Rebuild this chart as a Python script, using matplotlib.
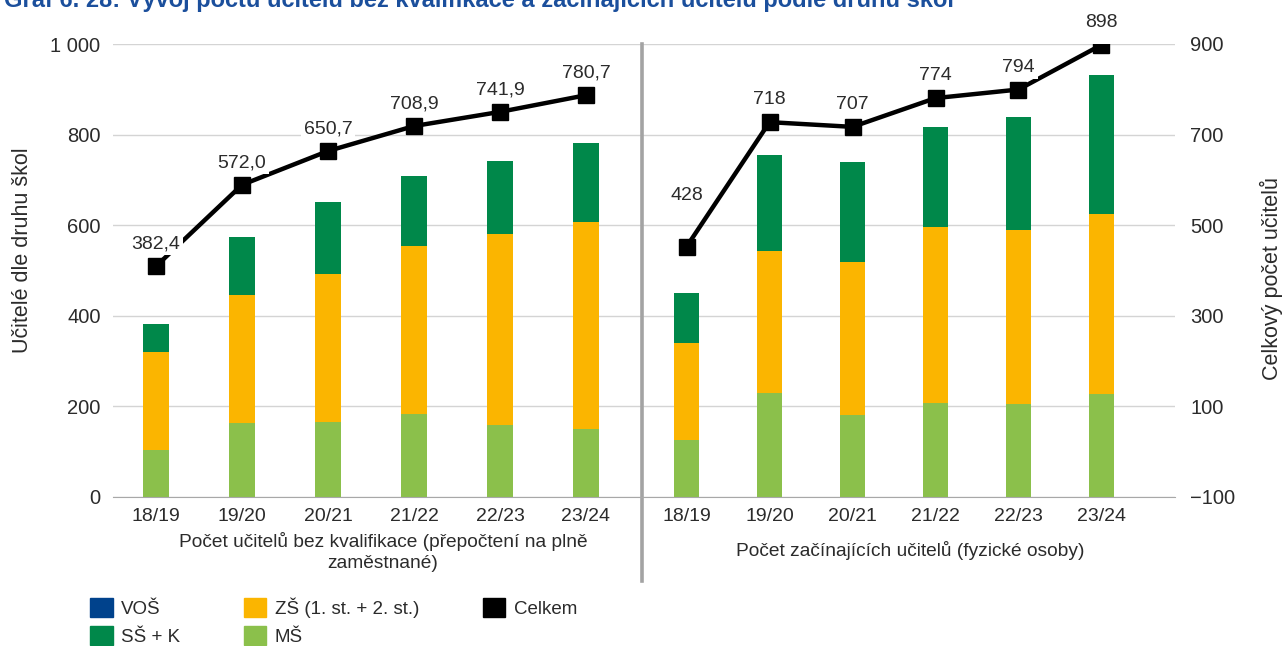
import matplotlib.pyplot as plt
import numpy as np
from matplotlib.patches import Patch
from matplotlib.ticker import FuncFormatter

plt.rcParams['font.family'] = ['Liberation Sans', 'DejaVu Sans']

years = ['18/19', '19/20', '20/21', '21/22', '22/23', '23/24']

# Počet učitelů bez kvalifikace (přepočtení na plně zaměstnané)
ms_bk = [103, 163, 166, 183, 159, 150]
zs_bk = [217, 282, 327, 371, 422, 457]
ss_bk = [62, 130, 158, 155, 161, 174]
vos_bk = [0, 0, 0, 0, 0, 0]
celkem_bk = [382.4, 572.0, 650.7, 708.9, 741.9, 780.7]

# Počet začínajících učitelů (fyzické osoby)
ms_z = [126, 230, 181, 208, 206, 228]
zs_z = [215, 312, 338, 387, 383, 397]
ss_z = [109, 213, 221, 222, 250, 306]
vos_z = [0, 0, 0, 0, 0, 0]
celkem_z = [428, 718, 707, 774, 794, 898]

C_VOS = '#00428c'
C_SS = '#00884a'
C_ZS = '#fbb500'
C_MS = '#8bc04b'
TXT = '#2b2b2b'

W, H = 1282, 646
fig = plt.figure(figsize=(W / 100, H / 100), dpi=100)
ax = fig.add_axes([113 / W, 1 - 497 / H, (1175 - 113) / W, 453 / H])

xl = np.arange(6)
xr = 6.17 + 0.965 * np.arange(6)
bw = 0.30


def stack(x, ms, zs, ss, vos):
    ms, zs, ss, vos = map(np.array, (ms, zs, ss, vos))
    ax.bar(x, ms, bw, color=C_MS, lw=0)
    ax.bar(x, zs, bw, bottom=ms, color=C_ZS, lw=0)
    ax.bar(x, ss, bw, bottom=ms + zs, color=C_SS, lw=0)
    ax.bar(x, vos, bw, bottom=ms + zs + ss, color=C_VOS, lw=0)


stack(xl, ms_bk, zs_bk, ss_bk, vos_bk)
stack(xr, ms_z, zs_z, ss_z, vos_z)

ax.set_xlim(-0.5, 11.85)
ax.set_ylim(0, 1000)
ax.set_yticks(np.arange(0, 1001, 200))
ax.yaxis.set_major_formatter(FuncFormatter(lambda v, p: f'{v:,.0f}'.replace(',', ' ')))
ax.set_xticks(np.concatenate([xl, xr]))
ax.set_xticklabels(years + years)
ax.tick_params(axis='x', length=0, pad=8, labelsize=14, colors=TXT)
ax.tick_params(axis='y', length=0, pad=9, labelsize=14.5, colors=TXT)
ax.yaxis.grid(True, color='#d4d4d4', lw=1)
ax.set_axisbelow(True)
for s in ['top', 'left', 'right']:
    ax.spines[s].set_visible(False)
ax.spines['bottom'].set_color('#a8a8a8')

# separator between the two panels
ax.axvline(5.65, ymin=-0.185, ymax=1.0, color='#a3a3a3', lw=2.6, clip_on=False)

# right axis
ax2 = ax.twinx()
ax2.set_ylim(-100, 900)
ax2.set_yticks(np.arange(-100, 901, 200))
ax2.tick_params(axis='y', length=0, pad=11, labelsize=14.5, colors=TXT)
for s in ax2.spines.values():
    s.set_visible(False)

# line for totals (own scale)
ax3 = ax.twinx()
ax3.set_ylim(-155, 900)
ax3.axis('off')
for x, vals, fmt in [(xl, celkem_bk, '{:.1f}'), (xr, celkem_z, '{:.0f}')]:
    ax3.plot(x, vals, color='black', lw=3.2, marker='s', ms=11.5, zorder=3)
    for xi, v in zip(x, vals):
        # 428 label sits higher so it does not sit on the line
        dy = 37 if v == 428 else 16
        ax3.annotate(fmt.format(v).replace('.', ','), (xi, v), xytext=(0, dy),
                     textcoords='offset points', ha='center', va='center',
                     fontsize=14, color=TXT, zorder=4,
                     bbox=dict(boxstyle='square,pad=0.15', fc='white', ec='none'))

# axis titles
fig.text(23 / W, 1 - 250 / H, 'Učitelé dle druhu škol', rotation=90,
         ha='center', va='center', fontsize=15.5, color=TXT)
fig.text(1271 / W, 1 - 278 / H, 'Celkový počet učitelů', rotation=90,
         ha='center', va='center', fontsize=15.5, color=TXT)

fig.text(383 / W, 1 - 552 / H,
         'Počet učitelů bez kvalifikace (přepočtení na plně\nzaměstnané)',
         ha='center', va='center', fontsize=13.8, color=TXT,
         multialignment='center', linespacing=1.35)
fig.text(910 / W, 1 - 551 / H, 'Počet začínajících učitelů (fyzické osoby)',
         ha='center', va='center', fontsize=13.8, color=TXT)

# title (cut off at the top in the reference)
fig.text(4 / W, 1 - 7 / H,
         'Graf 6. 28: Vývoj počtu učitelů bez kvalifikace a začínajících učitelů podle druhu škol',
         ha='left', va='baseline', fontsize=17, fontweight='bold', color='#1b4f9c')

handles = [Patch(color=C_VOS, label='VOŠ'), Patch(color=C_SS, label='SŠ + K'),
           Patch(color=C_ZS, label='ZŠ (1. st. + 2. st.)'), Patch(color=C_MS, label='MŠ'),
           Patch(color='black', label='Celkem')]
fig.legend(handles=handles, ncol=3, loc='upper left',
           bbox_to_anchor=(90 / W, 1 - 597 / H), frameon=False,
           fontsize=13.5, handlelength=1.2, handleheight=1.2,
           handletextpad=0.45, columnspacing=3.4, labelspacing=0.45,
           borderpad=0, borderaxespad=0, labelcolor=TXT)

fig.savefig('out.png', dpi=100)
